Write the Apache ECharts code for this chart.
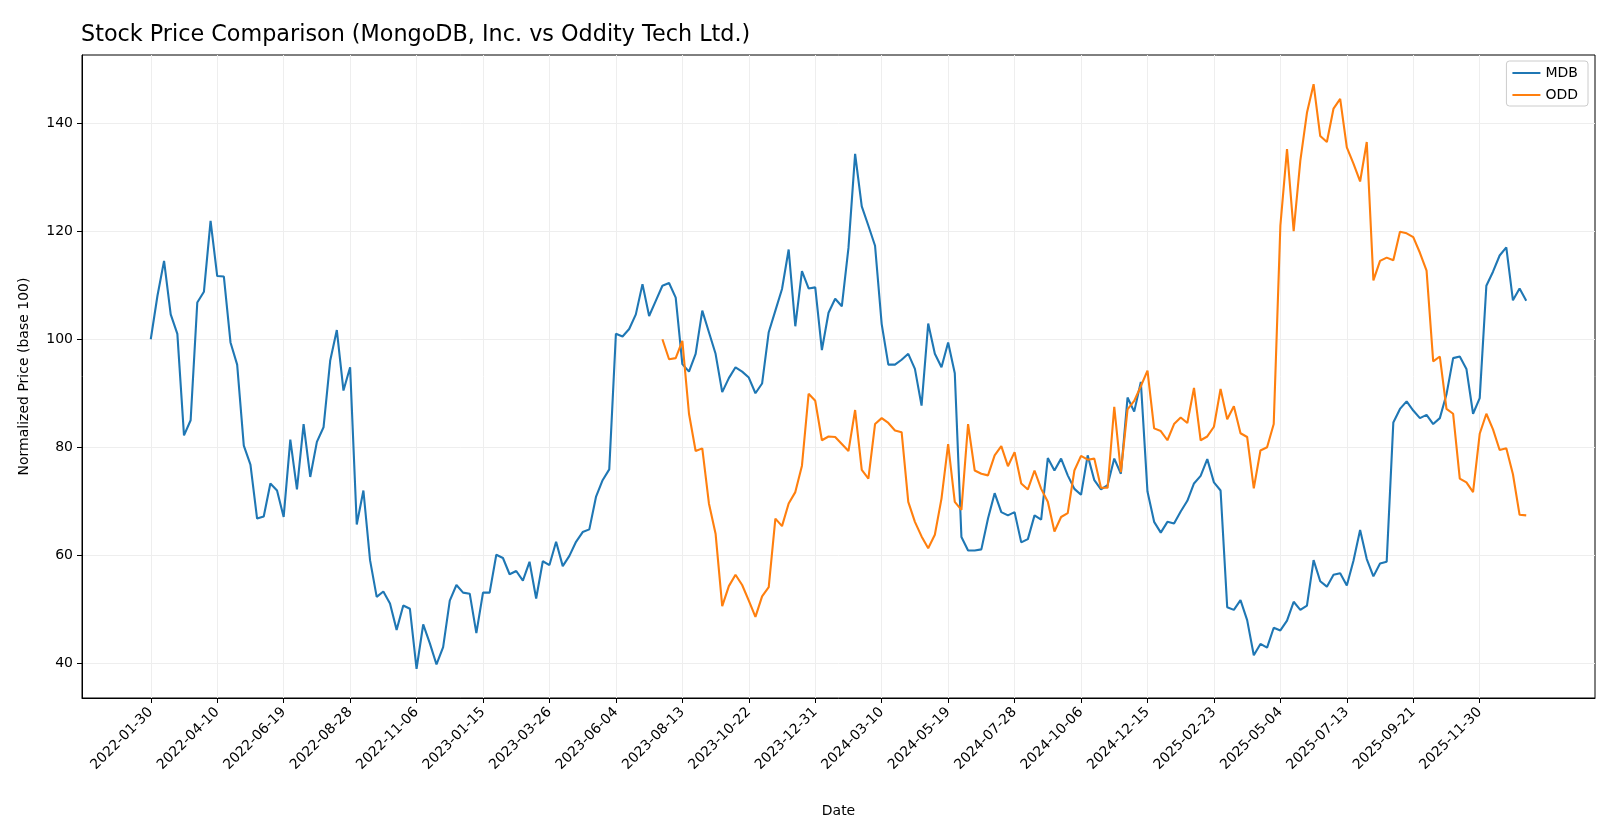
<!DOCTYPE html>
<html>
<head>
<meta charset="utf-8">
<title>Stock Price Comparison</title>
<script src="https://cdn.jsdelivr.net/npm/echarts@6/dist/echarts.min.js"></script>
<style>
  html, body { margin: 0; padding: 0; background: #fff; }
  #chart { width: 1620px; height: 819px; }
</style>
</head>
<body>
<div id="chart"></div>
<script>
// weekly closes, normalized to 100 at each series' first week
var startDate = '2022-01-30';
var oddStartIndex = 77; // ODD starts trading in week 77 (2023-07-23)

var tickLabels = ['2022-01-30', '2022-04-10', '2022-06-19', '2022-08-28', '2022-11-06',
  '2023-01-15', '2023-03-26', '2023-06-04', '2023-08-13', '2023-10-22', '2023-12-31',
  '2024-03-10', '2024-05-19', '2024-07-28', '2024-10-06', '2024-12-15', '2025-02-23',
  '2025-05-04', '2025-07-13', '2025-09-21', '2025-11-30'];
var yTicks = [40, 60, 80, 100, 120, 140];

var mdb = [
  100.0, 108.0, 114.5, 104.6, 101.0, 82.2, 85.0, 106.8, 108.8, 121.9,
  111.7, 111.6, 99.4, 95.3, 80.3, 76.8, 66.8, 67.2, 73.3, 72.0,
  67.1, 81.4, 72.2, 84.3, 74.5, 81.0, 83.7, 96.0, 101.7, 90.5,
  94.8, 65.7, 72.0, 59.1, 52.3, 53.3, 51.1, 46.2, 50.7, 50.1,
  39.0, 47.2, 43.7, 39.8, 43.0, 51.6, 54.5, 53.1, 52.9, 45.6,
  53.1, 53.1, 60.1, 59.5, 56.5, 57.1, 55.3, 58.8, 52.0, 58.9,
  58.2, 62.5, 58.0, 59.9, 62.5, 64.3, 64.8, 70.8, 73.9, 75.9,
  101.0, 100.5, 101.9, 104.6, 110.2, 104.3, 107.1, 109.9, 110.4, 107.7,
  95.4, 94.0, 97.3, 105.3, 101.3, 97.3, 90.2, 92.8, 94.8, 94.0,
  92.9, 90.0, 91.8, 101.3, 105.3, 109.3, 116.6, 102.4, 112.6, 109.4,
  109.6, 98.0, 104.9, 107.5, 106.1, 116.9, 134.3, 124.6, 121.0, 117.3,
  102.8, 95.3, 95.3, 96.2, 97.3, 94.5, 87.7, 102.9, 97.3, 94.8,
  99.4, 93.7, 63.4, 60.9, 60.9, 61.1, 66.8, 71.5, 68.0, 67.4,
  68.0, 62.4, 63.0, 67.4, 66.6, 78.0, 75.7, 77.9, 74.8, 72.3,
  71.2, 78.5, 73.9, 72.2, 73.0, 77.9, 75.1, 89.2, 86.6, 92.1,
  71.8, 66.2, 64.2, 66.2, 65.9, 68.1, 70.1, 73.3, 74.7, 77.8,
  73.5, 72.0, 50.4, 49.9, 51.7, 48.0, 41.5, 43.6, 42.9, 46.6,
  46.1, 47.9, 51.4, 49.9, 50.7, 59.1, 55.2, 54.2, 56.4, 56.7,
  54.4, 59.0, 64.7, 59.3, 56.1, 58.5, 58.8, 84.6, 87.1, 88.5,
  86.8, 85.4, 86.0, 84.3, 85.4, 89.8, 96.5, 96.8, 94.5, 86.2,
  89.1, 109.9, 112.5, 115.5, 117.0, 107.2, 109.4, 107.1
];

var odd = [
  100.0, 96.3, 96.5, 99.7, 86.2, 79.3, 79.8, 69.6, 64.0, 50.6,
  54.3, 56.4, 54.5, 51.6, 48.6, 52.4, 54.1, 66.8, 65.4, 69.6,
  71.7, 76.6, 89.9, 88.6, 81.3, 82.0, 81.9, 80.6, 79.3, 86.9,
  75.8, 74.2, 84.3, 85.4, 84.5, 83.1, 82.8, 69.9, 66.2, 63.5,
  61.3, 63.8, 70.5, 80.6, 69.9, 68.4, 84.3, 75.7, 75.1, 74.8,
  78.5, 80.2, 76.5, 79.1, 73.3, 72.2, 75.7, 72.3, 69.9, 64.4,
  67.1, 67.8, 75.7, 78.4, 77.7, 77.9, 72.5, 72.5, 87.5, 75.4,
  87.0, 88.6, 91.3, 94.2, 83.5, 83.0, 81.3, 84.3, 85.5, 84.5,
  91.0, 81.3, 82.0, 83.8, 90.8, 85.2, 87.6, 82.6, 81.9, 72.4,
  79.4, 80.0, 84.3, 121.0, 135.2, 120.0, 133.0, 141.9, 147.2, 137.6,
  136.5, 142.7, 144.5, 135.5, 132.5, 129.2, 136.5, 110.9, 114.5, 115.1,
  114.6, 119.9, 119.6, 118.9, 116.0, 112.7, 95.9, 96.8, 87.1, 86.2,
  74.2, 73.5, 71.7, 82.5, 86.2, 83.3, 79.5, 79.8, 75.0, 67.5,
  67.4
];

var WEEK = 7 * 24 * 3600 * 1000;
function toMs(s) { return Date.parse(s + 'T00:00:00Z'); }
function toLabel(v) { return new Date(v).toISOString().slice(0, 10); }

var t0 = toMs(startDate);
var mdbData = mdb.map(function (v, i) { return [t0 + i * WEEK, v]; });
var oddData = odd.map(function (v, i) { return [t0 + (oddStartIndex + i) * WEEK, v]; });

// matplotlib style 5% margins
var tLast = t0 + (mdb.length - 1) * WEEK;
var xPad = (tLast - t0) * 0.05;
var all = mdb.concat(odd);
var yLo = Math.min.apply(null, all), yHi = Math.max.apply(null, all);
var yPad = (yHi - yLo) * 0.05;

var font = 'DejaVu Sans';
var chart = echarts.init(document.getElementById('chart'));

var option = {
  animation: false,
  backgroundColor: '#ffffff',
  title: {
    text: 'Stock Price Comparison (MongoDB, Inc. vs Oddity Tech Ltd.)',
    left: 76,
    top: 19,
    textStyle: { fontFamily: font, fontSize: 22.3, fontWeight: 'normal', color: '#000' }
  },
  legend: {
    orient: 'vertical',
    right: 32,
    top: 61,
    data: ['MDB', 'ODD'],
    icon: 'rect',
    itemWidth: 28,
    itemHeight: 2,
    itemGap: 8,
    padding: [5, 10, 4, 6],
    borderColor: '#cccccc',
    borderWidth: 1,
    borderRadius: 3,
    backgroundColor: 'rgba(255,255,255,0.8)',
    textStyle: { fontFamily: font, fontSize: 14, color: '#000' }
  },
  grid: {
    left: 82, right: 25, top: 55, bottom: 121,
    outerBoundsMode: 'none',
    show: true, borderColor: '#000', borderWidth: 1
  },
  xAxis: {
    type: 'value',
    min: t0 - xPad,
    max: tLast + xPad,
    name: 'Date',
    nameLocation: 'middle',
    nameGap: 106,
    nameTextStyle: { fontFamily: font, fontSize: 14, color: '#000' },
    axisLine: { show: true, lineStyle: { color: '#000', width: 1 } },
    axisTick: {
      show: true, length: 5, lineStyle: { color: '#000' },
      customValues: tickLabels.map(toMs)
    },
    axisLabel: {
      customValues: tickLabels.map(toMs),
      rotate: 45,
      margin: 12,
      fontFamily: font,
      fontSize: 14,
      color: '#000',
      formatter: toLabel
    },
    splitLine: { show: true, lineStyle: { color: '#eeeeee', width: 1 } }
  },
  yAxis: {
    type: 'value',
    min: yLo - yPad,
    max: yHi + yPad,
    name: 'Normalized Price (base 100)',
    nameLocation: 'middle',
    nameGap: 51,
    nameTextStyle: { fontFamily: font, fontSize: 14, color: '#000' },
    axisLine: { show: true, lineStyle: { color: '#000', width: 1 } },
    axisTick: { show: true, length: 5, lineStyle: { color: '#000' }, customValues: yTicks },
    axisLabel: {
      customValues: yTicks,
      margin: 9,
      fontFamily: font,
      fontSize: 14,
      color: '#000'
    },
    splitLine: { show: true, lineStyle: { color: '#eeeeee', width: 1 } }
  },
  series: [
    {
      name: 'MDB',
      type: 'line',
      data: mdbData,
      showSymbol: false,
      color: '#1f77b4',
      lineStyle: { width: 2.1, color: '#1f77b4' }
    },
    {
      name: 'ODD',
      type: 'line',
      data: oddData,
      showSymbol: false,
      color: '#ff7f0e',
      lineStyle: { width: 2.1, color: '#ff7f0e' }
    }
  ]
};

chart.setOption(option);
</script>
</body>
</html>
